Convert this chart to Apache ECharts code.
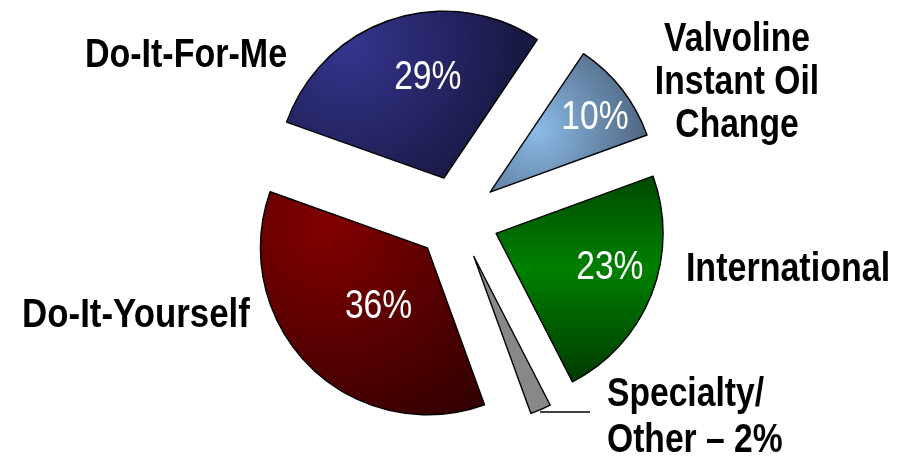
<!DOCTYPE html>
<html>
<head>
<meta charset="utf-8">
<script src="https://cdn.jsdelivr.net/npm/echarts@6/dist/echarts.min.js"></script>
<style>
html,body{margin:0;padding:0;background:#fff;}
#chart{width:911px;height:457px;}
</style>
</head>
<body>
<div id="chart"></div>
<script>
// ---- data ----
const categories = ['Valvoline\nInstant Oil\nChange', 'International', 'Specialty/\nOther', 'Do-It-Yourself', 'Do-It-For-Me'];
const shares = [10, 23, 2, 36, 29];

// ---- styles / layout (kept apart from data) ----
const FONT = '"Liberation Sans", Arial, sans-serif';
const NARROW = 0.82; // emulate a narrow face by horizontal scaling
const sliceColors = [
  {type:'radial', x:0.3, y:0.55, r:0.85, colorStops:[{offset:0,color:'#8cbbe8'},{offset:1,color:'#4a5f78'}]},
  {type:'linear', x:0, y:0, x2:0, y2:1, colorStops:[{offset:0,color:'#004a00'},{offset:0.45,color:'#008000'},{offset:1,color:'#003a00'}]},
  '#888888',
  {type:'radial', x:0.3, y:0.15, r:1.0, colorStops:[{offset:0,color:'#820000'},{offset:1,color:'#360000'}]},
  {type:'radial', x:0.25, y:0.2, r:1.0, colorStops:[{offset:0,color:'#35358f'},{offset:1,color:'#191945'}]}
];
const SELECTED_OFFSET = 42;
const pctShift = [[39,-23],[36,4],[0,0],[10,0],[10,-21]];
const showPct = [true, true, false, true, true];
const nameLayout = [
  {x:737, y:83, align:'center', lh:43, sx:0.82},
  {x:788, y:270, align:'center', lh:43, sx:0.83},
  {x:607, y:418, align:'left', lh:46, sx:0.82},
  {x:136, y:316, align:'center', lh:43, sx:0.85},
  {x:186, y:56, align:'center', lh:43, sx:0.83}
];

const chart = echarts.init(document.getElementById('chart'), null, {renderer:'canvas'});

const data = categories.map((c, i) => ({
  name: c,
  value: shares[i],
  selected: true,
  itemStyle: {color: sliceColors[i]}
}));

const graphics = categories.map((c, i) => {
  const txt = (i === 2) ? c + ' \u2013 ' + shares[i] + '%' : c;
  const L = nameLayout[i];
  return {
    type: 'text', x: L.x, y: L.y, scaleX: L.sx, silent: true, z: 100,
    style: {text: txt, fill: '#000', font: 'bold 41px ' + FONT, align: L.align, verticalAlign: 'middle', lineHeight: L.lh}
  };
});
graphics.push({type:'line', silent:true, z: 100, shape:{x1:540, y1:412, x2:590, y2:412}, style:{stroke:'#000', lineWidth:1.5}});

chart.setOption({
  animation: false,
  backgroundColor: '#ffffff',
  series: [{
    type: 'pie',
    center: [457, 218],
    radius: 167,
    startAngle: 56,
    clockwise: true,
    selectedMode: 'multiple',
    selectedOffset: SELECTED_OFFSET,
    avoidLabelOverlap: false,
    emphasis: {disabled: true},
    itemStyle: {borderColor: '#000', borderWidth: 1.4},
    label: {show: false},
    labelLine: {show: false},
    data: data
  }],
  graphic: graphics
});

// percentage labels placed from the pie's own computed sector layout
const sData = chart.getModel().getSeriesByIndex(0).getData();
const pctGraphics = [];
shares.forEach((v, i) => {
  if (!showPct[i]) return;
  const L = sData.getItemLayout(i);
  const mid = (L.startAngle + L.endAngle) / 2;
  const rr = SELECTED_OFFSET + (L.r + (L.r0 || 0)) / 2;
  pctGraphics.push({
    type: 'text', silent: true, scaleX: NARROW, z: 100,
    x: L.cx + Math.cos(mid) * rr + pctShift[i][0],
    y: L.cy + Math.sin(mid) * rr + pctShift[i][1],
    style: {text: v + '%', fill: '#fff', font: '41px ' + FONT, align: 'center', verticalAlign: 'middle'}
  });
});
chart.setOption({graphic: graphics.concat(pctGraphics)}, {replaceMerge: ['graphic']});
</script>
</body>
</html>
